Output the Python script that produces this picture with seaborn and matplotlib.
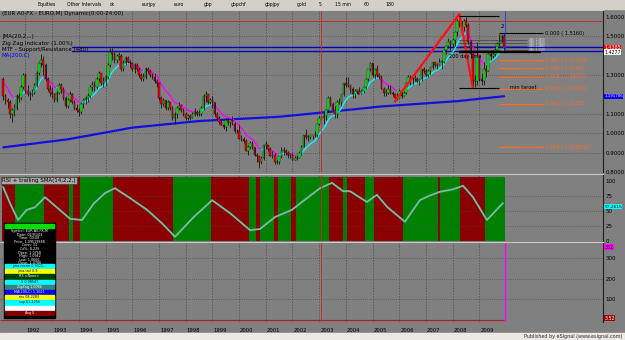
import numpy as np
import pandas as pd
import matplotlib
matplotlib.use("Agg")
import matplotlib.pyplot as plt
from matplotlib.patches import Rectangle
from matplotlib.collections import LineCollection
import seaborn as sns

# monthly bars, EUR A0-FX, Mar 1991 .. Dec 2009
first_month = "1991-03"
first_open = 1.28
closes = [
    1.19, 1.17, 1.16, 1.10, 1.12, 1.13, 1.19, 1.18, 1.24, 1.30,              # 1991
    1.22, 1.20, 1.20, 1.21, 1.25, 1.31, 1.36, 1.38, 1.35, 1.28, 1.23, 1.21,  # 1992
    1.20, 1.17, 1.21, 1.25, 1.23, 1.18, 1.14, 1.17, 1.20, 1.16, 1.13, 1.12,  # 1993
    1.11, 1.15, 1.17, 1.18, 1.19, 1.24, 1.25, 1.24, 1.28, 1.31, 1.26, 1.27,  # 1994
    1.29, 1.35, 1.42, 1.41, 1.38, 1.40, 1.40, 1.33, 1.36, 1.39, 1.37, 1.36,  # 1995
    1.33, 1.35, 1.33, 1.30, 1.28, 1.29, 1.33, 1.32, 1.30, 1.29, 1.27, 1.26,  # 1996
    1.18, 1.15, 1.17, 1.13, 1.16, 1.13, 1.08, 1.10, 1.13, 1.14, 1.12, 1.10,  # 1997
    1.08, 1.09, 1.08, 1.10, 1.11, 1.10, 1.10, 1.13, 1.19, 1.20, 1.16, 1.17,  # 1998
    1.16, 1.10, 1.08, 1.06, 1.04, 1.03, 1.07, 1.06, 1.07, 1.05, 1.01, 1.01,  # 1999
    0.97, 0.97, 0.96, 0.91, 0.93, 0.95, 0.93, 0.89, 0.88, 0.85, 0.87, 0.94,  # 2000
    0.94, 0.92, 0.88, 0.89, 0.85, 0.85, 0.88, 0.91, 0.91, 0.90, 0.89, 0.89,  # 2001
    0.86, 0.87, 0.87, 0.90, 0.93, 0.99, 0.98, 0.98, 0.99, 0.99, 0.99, 1.05,  # 2002
    1.08, 1.08, 1.09, 1.12, 1.18, 1.15, 1.12, 1.10, 1.16, 1.16, 1.20, 1.26,  # 2003
    1.25, 1.25, 1.23, 1.20, 1.22, 1.22, 1.20, 1.22, 1.24, 1.28, 1.33, 1.36,  # 2004
    1.30, 1.33, 1.30, 1.29, 1.23, 1.21, 1.21, 1.23, 1.21, 1.20, 1.18, 1.18,  # 2005
    1.22, 1.19, 1.21, 1.26, 1.29, 1.28, 1.28, 1.28, 1.27, 1.28, 1.33, 1.32,  # 2006
    1.30, 1.32, 1.34, 1.37, 1.35, 1.35, 1.37, 1.37, 1.43, 1.45, 1.47, 1.46,  # 2007
    1.48, 1.52, 1.58, 1.56, 1.55, 1.58, 1.56, 1.47, 1.41, 1.27, 1.27, 1.40,  # 2008
    1.28, 1.27, 1.33, 1.32, 1.41, 1.40, 1.41, 1.43, 1.46, 1.47, 1.50, 1.44,  # 2009
]
highs = [
    1.29, 1.20, 1.18, 1.17, 1.13, 1.15, 1.20, 1.21, 1.25, 1.31,
    1.31, 1.25, 1.22, 1.23, 1.26, 1.32, 1.37, 1.41, 1.40, 1.36, 1.29, 1.25,
    1.24, 1.21, 1.22, 1.26, 1.26, 1.24, 1.19, 1.18, 1.22, 1.21, 1.17, 1.15,
    1.13, 1.16, 1.18, 1.19, 1.21, 1.25, 1.27, 1.27, 1.29, 1.32, 1.31, 1.29,
    1.30, 1.36, 1.44, 1.44, 1.42, 1.41, 1.42, 1.41, 1.38, 1.40, 1.40, 1.38,
    1.37, 1.36, 1.36, 1.34, 1.31, 1.31, 1.34, 1.34, 1.33, 1.31, 1.31, 1.28,
    1.26, 1.19, 1.18, 1.17, 1.17, 1.16, 1.14, 1.11, 1.14, 1.16, 1.15, 1.13,
    1.11, 1.10, 1.10, 1.11, 1.13, 1.12, 1.12, 1.14, 1.20, 1.22, 1.20, 1.18,
    1.19, 1.16, 1.11, 1.09, 1.07, 1.05, 1.08, 1.08, 1.07, 1.09, 1.06, 1.02,
    1.04, 0.99, 0.98, 0.97, 0.94, 0.96, 0.96, 0.93, 0.90, 0.88, 0.88, 0.94,
    0.96, 0.94, 0.93, 0.91, 0.90, 0.86, 0.88, 0.93, 0.93, 0.92, 0.91, 0.90,
    0.90, 0.88, 0.89, 0.91, 0.94, 0.99, 1.02, 0.99, 0.99, 0.99, 1.01, 1.05,
    1.09, 1.09, 1.11, 1.12, 1.19, 1.19, 1.16, 1.14, 1.17, 1.18, 1.20, 1.26,
    1.29, 1.29, 1.25, 1.24, 1.23, 1.23, 1.24, 1.23, 1.24, 1.28, 1.33, 1.37,
    1.36, 1.33, 1.35, 1.31, 1.30, 1.24, 1.23, 1.25, 1.25, 1.22, 1.21, 1.21,
    1.23, 1.22, 1.22, 1.26, 1.30, 1.30, 1.29, 1.30, 1.29, 1.28, 1.33, 1.34,
    1.33, 1.33, 1.34, 1.37, 1.37, 1.36, 1.39, 1.38, 1.43, 1.45, 1.49, 1.48,
    1.49, 1.52, 1.59, 1.60, 1.58, 1.59, 1.60, 1.57, 1.48, 1.42, 1.30, 1.47,
    1.40, 1.31, 1.37, 1.35, 1.42, 1.43, 1.43, 1.44, 1.47, 1.51, 1.51, 1.51,
]
lows = [
    1.17, 1.15, 1.13, 1.08, 1.06, 1.09, 1.12, 1.16, 1.17, 1.23,
    1.21, 1.19, 1.17, 1.19, 1.20, 1.24, 1.30, 1.34, 1.30, 1.27, 1.22, 1.19,
    1.18, 1.16, 1.16, 1.20, 1.21, 1.17, 1.13, 1.13, 1.16, 1.15, 1.12, 1.11,
    1.09, 1.10, 1.13, 1.15, 1.16, 1.18, 1.22, 1.22, 1.23, 1.27, 1.25, 1.24,
    1.25, 1.28, 1.34, 1.38, 1.36, 1.36, 1.38, 1.32, 1.32, 1.35, 1.36, 1.34,
    1.32, 1.31, 1.32, 1.29, 1.27, 1.27, 1.28, 1.31, 1.29, 1.28, 1.26, 1.24,
    1.17, 1.13, 1.14, 1.12, 1.12, 1.12, 1.07, 1.05, 1.08, 1.12, 1.11, 1.09,
    1.07, 1.07, 1.07, 1.08, 1.09, 1.09, 1.09, 1.09, 1.12, 1.16, 1.15, 1.15,
    1.13, 1.09, 1.07, 1.05, 1.04, 1.02, 1.01, 1.04, 1.03, 1.04, 1.00, 1.00,
    0.97, 0.96, 0.95, 0.91, 0.89, 0.92, 0.92, 0.88, 0.85, 0.82, 0.84, 0.86,
    0.92, 0.91, 0.88, 0.87, 0.84, 0.84, 0.84, 0.87, 0.89, 0.89, 0.87, 0.87,
    0.86, 0.86, 0.86, 0.87, 0.89, 0.93, 0.97, 0.96, 0.97, 0.97, 0.98, 0.98,
    1.04, 1.07, 1.05, 1.07, 1.11, 1.14, 1.12, 1.08, 1.08, 1.15, 1.14, 1.19,
    1.24, 1.24, 1.21, 1.18, 1.18, 1.20, 1.20, 1.20, 1.21, 1.23, 1.27, 1.32,
    1.29, 1.28, 1.29, 1.28, 1.23, 1.19, 1.19, 1.20, 1.20, 1.19, 1.16, 1.17,
    1.18, 1.18, 1.19, 1.20, 1.26, 1.25, 1.25, 1.27, 1.26, 1.25, 1.27, 1.31,
    1.29, 1.29, 1.30, 1.33, 1.34, 1.33, 1.35, 1.33, 1.36, 1.41, 1.44, 1.43,
    1.44, 1.45, 1.50, 1.55, 1.53, 1.53, 1.55, 1.46, 1.39, 1.24, 1.24, 1.25,
    1.27, 1.25, 1.25, 1.29, 1.32, 1.38, 1.39, 1.40, 1.42, 1.45, 1.47, 1.42,
]

# MA(200,C)
ma_years = [1991.17, 1993.6, 1996.0, 1998.5, 2001.5, 2003.5, 2005.3, 2008.2, 2009.92]
ma_values = [0.927, 0.969, 1.029, 1.063, 1.085, 1.112, 1.138, 1.166, 1.191]

# zig zag swing points
zz_years = [2005.83, 2008.25, 2008.75]
zz_values = [1.165, 1.615, 1.236]

# RSI + trailing SMA
rsi_years = [1991.16, 1991.45, 1991.72, 1992.05, 1992.35, 1992.73, 1993.2, 1993.67,
             1994.12, 1994.55, 1994.98, 1995.35, 1995.9, 1996.55, 1997.1, 1997.60,
             1998.3, 1998.99, 1999.7, 2000.41, 2000.78, 2001.35, 2001.98, 2002.5,
             2003.03, 2003.48, 2003.89, 2004.15, 2004.79, 2005.16, 2005.54, 2006.21,
             2006.77, 2007.1, 2007.52, 2008.0, 2008.39, 2008.76, 2009.28, 2009.88]
rsi_values = [90, 60, 35, 52, 56, 73, 55, 37, 35, 62, 80, 88, 72, 52, 30, 7,
              40, 68, 45, 18, 20, 40, 52, 70, 88, 97, 83, 83, 65, 77, 57, 32,
              68, 75, 82, 86, 92, 73, 35, 63]

# trailing stop state, alternating red / green starting red
band_edges = ["1991-03", "1991-09", "1992-10", "1993-09", "1993-11", "1994-02", "1995-05",
              "1997-08", "1999-01", "2000-06", "2000-09", "2000-11", "2001-05", "2001-07",
              "2002-01", "2002-03", "2003-06", "2003-12", "2004-02", "2004-10", "2005-02",
              "2006-03", "2007-07", "2007-08", "2008-05", "2009-04", "2010-01"]

fib_ratios = ["0.382", "0.500", "0.618", "0.786", "1.000", "1.618"]
fib_prices = [1.377258, 1.3344, 1.291543, 1.230525, 1.1528, 0.928242]
fib_top = 1.5160
sr_levels = [1.443, 1.426]
mtf_levels = [1.4800, 1.4640, 1.4480, 1.4320]
price_ticks = [0.8, 0.9, 1.0, 1.1, 1.3, 1.5, 1.6]
rsi_ticks = [0, 25, 50, 75, 100]
vol_ticks = [100, 200, 300]
years = list(range(1992, 2010))

# --- helpers -------------------------------------------------------------
W, H = 625, 340
PX_PER_YEAR = 26.7
X0 = 1992 - 25.5 / PX_PER_YEAR
X1 = X0 + 603 / PX_PER_YEAR
GRAY = "#808080"
GRID = "#4a4a4a"

sns.set_style("white")
plt.rcParams["font.family"] = ["DejaVu Sans"]
fig = plt.figure(figsize=(W / 100, H / 100), dpi=100, facecolor=GRAY)


def px_axes(x0, y0, x1, y1):
    ax = fig.add_axes([x0 / W, 1 - y1 / H, (x1 - x0) / W, (y1 - y0) / H])
    ax.set_facecolor(GRAY)
    for s in ["top", "left", "bottom"]:
        ax.spines[s].set_visible(False)
    ax.spines["right"].set_color("#202020")
    ax.spines["right"].set_linewidth(0.8)
    ax.set_xlim(X0, X1)
    ax.yaxis.tick_right()
    ax.tick_params(axis="y", length=0, pad=2, labelsize=4.0, labelcolor="black")
    ax.set_xticks([])
    for yr in years:
        ax.axvline(yr, color=GRID, lw=0.5, ls=(0, (2, 2)), zorder=0)
    return ax


def ftext(x, y, s, **kw):
    kw.setdefault("fontsize", 4.3)
    kw.setdefault("va", "center")
    fig.text(x / W, 1 - y / H, s, **kw)


def right_label(ax, y, s, fc, tc="black", size=3.4):
    ax.text(1.002, y, s, transform=ax.get_yaxis_transform(), fontsize=size, color=tc,
            va="center", ha="left", clip_on=False,
            bbox=dict(boxstyle="square,pad=0.12", fc=fc, ec="none"))


months = pd.period_range(first_month, periods=len(closes), freq="M")
t = np.asarray(months.year + (months.month - 1) / 12, dtype=float)
c = np.array(closes)
h = np.array(highs)
lo = np.array(lows)
o = np.r_[first_open, c[:-1]]

# --- price panel ---------------------------------------------------------
ax = px_axes(0, 10, 603, 172)
ax.set_ylim(0.805, 1.636)
ax.set_yticks(price_ticks)
ax.set_yticklabels([f"{v:.4f}" for v in price_ticks])
for v in [0.9, 1.0, 1.1, 1.3, 1.5]:
    ax.axhline(v, color=GRID, lw=0.5, ls=(0, (1, 2)), zorder=0)
ax.axhline(1.577, color="#d02020", lw=0.6, zorder=1)
for v in sr_levels:
    ax.axhline(v, xmin=(1993.75 - X0) / (X1 - X0), color="#0000c0", lw=1.0, zorder=1)

sns.lineplot(x=ma_years, y=ma_values, ax=ax, color="#1010e0", lw=1.6, zorder=2)

# JMA style smoothing of the closes, magenta falling / cyan rising
jma = pd.Series(np.r_[first_open, c]).ewm(span=10, adjust=False).mean().values[1:]
segs = np.stack([np.c_[t[:-1], jma[:-1]], np.c_[t[1:], jma[1:]]], axis=1)
cols = np.where(np.diff(jma) >= 0, "#00ffff", "#ff00ff")
ax.add_collection(LineCollection(segs, colors=cols, lw=1.0, zorder=3))

up = c >= o
body_lo = np.minimum(o, c)
body_h = np.maximum(np.abs(c - o), 0.003)
ax.vlines(t, lo, h, color="black", lw=0.5, zorder=4)
ax.bar(t, body_h, bottom=body_lo, width=0.06, color=np.where(up, "#00ff00", "#ff0000"),
       edgecolor="black", linewidth=0.25, zorder=5)

sns.lineplot(x=zz_years, y=zz_values, ax=ax, color="#ff1010", lw=1.6, zorder=6)

# fibonacci / target annotations
fx0, fx1 = 2009.72, 2011.4
ax.hlines(fib_top, fx0, fx1, color="black", lw=0.8, zorder=6)
ax.text(fx1 + 0.05, fib_top, f"0.000 ( {fib_top:.4f})", fontsize=3.6, va="center", color="black")
for r, p in zip(fib_ratios, fib_prices):
    ax.hlines(p, fx0, fx1, color="#ff6a20", lw=0.9, zorder=6)
    ax.text(fx1 + 0.05, p, f"{r} ( {p:g})", fontsize=3.6, va="center", color="#ff6a20")
ax.hlines(1.603, 2008.25, 2009.72, color="black", lw=0.8, zorder=6)
ax.hlines(1.236, 2008.25, 2009.72, color="black", lw=0.8, zorder=6)
ax.text(2011.15, 1.236, "min target", fontsize=3.6, va="center", ha="right", color="black")
for v in mtf_levels:
    ax.hlines(v, 2008.25, 2010.8, color="#303030", lw=0.4, zorder=6)
    ax.text(2010.85, v, f"480: {v:.4f}", fontsize=1.9, va="center", color="#e0e0e0")
ax.hlines(1.420, 2008.25, 2011.3, color="black", lw=1.6, zorder=6)
ax.text(2007.85, 1.395, "200 day sma", fontsize=3.6, va="center", color="black", zorder=7)
ax.text(2009.88, 1.545, "2", fontsize=4, ha="center", color="black")
ax.axvline(2009.96, ymin=(1.43 - 0.805) / (1.636 - 0.805), color="#2040ff", lw=0.6, zorder=7)
right_label(ax, 1.441, "1.4385", "#ff0000", "white")
right_label(ax, 1.418, "1.4277", "white", "black")
right_label(ax, 1.191, "1.191706", "#0000ff", "white", size=2.9)

# --- RSI panel -----------------------------------------------------------
axr = px_axes(0, 175, 603, 241)
axr.set_ylim(0, 110)
axr.set_yticks(rsi_ticks)
edges = pd.PeriodIndex(band_edges, freq="M")
edge_t = np.asarray(edges.year + (edges.month - 1) / 12, dtype=float) - 1 / 24
for i in range(len(edge_t) - 1):
    axr.axvspan(edge_t[i], edge_t[i + 1], ymax=106 / 110,
                color="#8b0000" if i % 2 == 0 else "#008000", lw=0, zorder=1)
for v in [25, 50, 75]:
    axr.axhline(v, color=GRID, lw=0.5, ls=(0, (1, 2)), zorder=2)
sns.lineplot(x=rsi_years, y=rsi_values, ax=axr, color="#20c8e0", lw=1.4, zorder=3)
sns.lineplot(x=rsi_years, y=rsi_values, ax=axr, color="#ff9a30", lw=0.5, zorder=4)
right_label(axr, 57, "57.2615", "#00ffff", size=3.1)

# --- lower panel ---------------------------------------------------------
axv = px_axes(0, 243, 603, 322)
axv.set_ylim(-10, 375)
axv.set_yticks(vol_ticks)
for v in vol_ticks:
    axv.axhline(v, color=GRID, lw=0.5, ls=(0, (1, 2)), zorder=0)
axv.hlines(0, X0, t[-1], color="#b02020", lw=0.8)
axv.axvline(t[-1] + 0.04, color="#ff00ff", lw=1.0)
right_label(axv, 355, "352", "#ff00ff")
right_label(axv, 8, "3.52", "#a00000", "white")

for a in (ax, axr, axv):
    a.axvline(2003.08, color="#e02020", lw=0.6, zorder=8)

# panel separators and strips
for y in (10, 173.5, 242):
    fig.add_artist(plt.Line2D([0, 603 / W], [1 - y / H] * 2, color="#c8c8c8", lw=0.8))
fig.add_artist(Rectangle((0, 1 - 8.5 / H), 1, 8.5 / H, color="#d4d0c8", transform=fig.transFigure))
fig.add_artist(Rectangle((0, 0), 1, 7 / H, color="#ece9e4", transform=fig.transFigure))
ftext(622, 336.5, "Published by eSignal (www.esignal.com)", fontsize=3.5, ha="right")

# toolbar
tb = ["Equities", "Other Intervals", "ck", "eurjpy", "euro", "gbp", "gbpchf",
      "gbpjpy", "gold", "5", "15 min", "60", "180"]
tb_x = [37, 67, 110, 142, 174, 204, 231, 265, 297, 319, 335, 364, 385]
for x, s in zip(tb_x, tb):
    ftext(x, 4.5, s, fontsize=3.3, color="black")

# year labels
for yr in years:
    ftext(25.5 + (yr - 1992) * PX_PER_YEAR + 1, 330, str(yr), fontsize=3.8, color="black")

# indicator captions
ftext(2, 13, "(EUR A0-FX - EURO,M) Dynamic(0:00-24:00)", fontsize=4, color="black")
ftext(2, 36.5, "JMA(20,2,..)", fontsize=4, color="black")
ftext(2, 43, "Zig Zag Indicator (1.00%)", fontsize=4, color="black")
ftext(2, 49.5, "MTF - Support/Resistance (480)", fontsize=4, color="black")
ftext(2, 55.5, "MA(200,C)", fontsize=4, color="#0000ff")
ftext(2, 180.5, "RSI + trailing SMA(14,2,2,)", fontsize=4, color="black",
      bbox=dict(boxstyle="square,pad=0.2", fc="#a8a8a8", ec="#303030", lw=0.4))

# data window
fig.add_artist(Rectangle((4 / W, 1 - 318 / H), 51 / W, 95 / H, color="black",
                         transform=fig.transFigure, zorder=9))
fig.add_artist(Rectangle((5 / W, 1 - 228 / H), 49 / W, 4 / H, color="#00e000",
                         transform=fig.transFigure, zorder=10))
win_lines = ["Symbol: EUR A0-FX,M", "Date: 02/01/03", "Time: 00:00", "Price: 1.09519888",
             "Conn: 31", "Cd%: 8.225", "Open: 1.0758", "High: 1.0942", "Low: 1.0666",
             "Close: 1.0786"]
for i, s in enumerate(win_lines):
    ftext(29.5, 231 + i * 3.6, s, fontsize=2.4, color="white", ha="center", zorder=11)
rows = [("#00ffff", "jma.mean 0.9321..."), ("#ffff00", "jma.tail 0.9..."),
        ("#004000", "R3 <None>"), ("#00ffff", "S 0.98547"), ("#408080", "ZigZag 1.0086"),
        ("#0000ff", "MA(200,C) 1.1021"), ("#ffff00", "res 08.2283"), ("#00ffff", "sup 61.2256"),
        ("#ffffff", ""), ("#800000", "Avg 0")]
for i, (fc, s) in enumerate(rows):
    y = 266 + i * 5.2
    fig.add_artist(Rectangle((5 / W, 1 - (y + 2.3) / H), 49 / W, 4.4 / H, color=fc,
                             transform=fig.transFigure, zorder=10))
    tc = "white" if fc in ("#004000", "#0000ff", "#800000", "#408080") else "black"
    ftext(29.5, y, s, fontsize=2.4, color=tc, ha="center", zorder=11)

fig.savefig("out.png", dpi=100, facecolor=GRAY)
